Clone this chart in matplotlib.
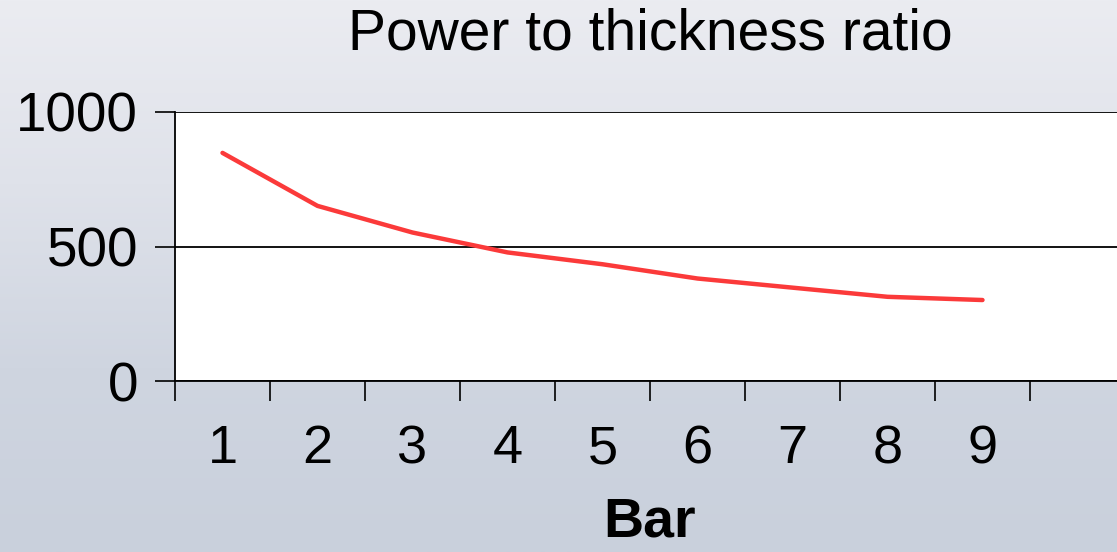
import numpy as np
import matplotlib
matplotlib.use("Agg")
import matplotlib.pyplot as plt
from matplotlib.colors import LinearSegmentedColormap

# Data
categories = ["1", "2", "3", "4", "5", "6", "7", "8", "9", ""]
values = [848, 651, 552, 478, 434, 381, 347, 313, 301]
title = "Power to thickness ratio"
xlabel = "Bar"
yticks = [0, 500, 1000]

plt.rcParams['font.family'] = ['Liberation Sans', 'DejaVu Sans']

W, H, DPI = 1117, 552, 100
fig = plt.figure(figsize=(W / DPI, H / DPI), dpi=DPI)

# background gradient
bg = fig.add_axes([0, 0, 1, 1], zorder=-10)
cmap = LinearSegmentedColormap.from_list("bg", ["#ebecf1", "#dfe2ea", "#cfd5e0", "#c9d0dc"])
grad = np.linspace(0, 1, 256).reshape(-1, 1)
bg.imshow(grad, aspect="auto", cmap=cmap, extent=[0, 1, 0, 1], origin="upper")
bg.set_axis_off()

# axes: x 175..1125 px, y 112..381 px (from top)
left, right = 175 / W, 1125 / W
bottom, top = 1 - 381 / H, 1 - 112 / H
ax = fig.add_axes([left, bottom, right - left, top - bottom])
ax.set_facecolor("white")

n = len(categories)
x = np.arange(1, len(values) + 1)
ax.plot(x, values, color="#fb3a3a", lw=3.2, solid_capstyle="round", solid_joinstyle="round", zorder=3)

ax.set_xlim(0.5, n + 0.5)
ax.set_ylim(0, 1000)

# category boundary ticks
ax.set_xticks(np.arange(0.5, n + 1.0, 1.0))
ax.set_xticklabels([])
ax.tick_params(axis="x", which="major", direction="out", length=14.5, width=1.2, color="black")
ax.set_xticks(np.arange(1, n + 1), minor=True)
ax.set_xticklabels(categories, minor=True)
ax.tick_params(axis="x", which="minor", length=0, pad=31, labelsize=39)

ax.set_yticks(yticks)
ax.set_yticklabels([str(v) for v in yticks])
ax.tick_params(axis="y", direction="out", length=14.5, width=1.2, pad=12, labelsize=39.5)
ax.yaxis.grid(True, color="black", lw=1.3)
ax.set_axisbelow(True)

for s in ["top", "right"]:
    ax.spines[s].set_visible(False)
for s in ["left", "bottom"]:
    ax.spines[s].set_color("black")
    ax.spines[s].set_linewidth(1.3)

ax.set_xlabel(xlabel, fontsize=40, fontweight="bold", labelpad=16)
ax.set_title(title, fontsize=41, pad=45)

fig.savefig("out.png", dpi=DPI)
